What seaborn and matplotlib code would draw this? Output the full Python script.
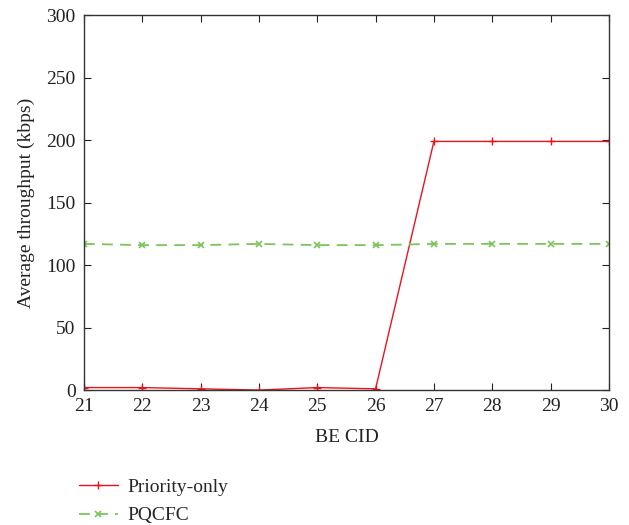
import matplotlib
matplotlib.use("Agg")
import matplotlib.pyplot as plt
import seaborn as sns
import pandas as pd

cid = [21, 22, 23, 24, 25, 26, 27, 28, 29, 30]
priority_only = [2, 2, 1, 0, 2, 1, 199, 199, 199, 199]
pqcfc = [117, 116, 116, 117, 116, 116, 117, 117, 117, 117]
yticks = [0, 50, 100, 150, 200, 250, 300]

sns.set_theme(style="white")
plt.rcParams['font.family'] = ['Liberation Serif', 'DejaVu Serif']

df = pd.DataFrame({"cid": cid * 2,
                   "val": priority_only + pqcfc,
                   "series": ["Priority-only"] * len(cid) + ["PQCFC"] * len(cid)})

fig = plt.figure(figsize=(6.29, 5.25), dpi=100)
ax = fig.add_axes([0.1335, 0.257, 0.8345, 0.714])

red = "#e8141c"
green = "#7ac55a"
sns.lineplot(data=df[df.series == "Priority-only"], x="cid", y="val", ax=ax,
             color=red, lw=1.0, marker="+", markersize=6, mew=1.0,
             markeredgecolor=red, label="Priority-only")
sns.lineplot(data=df[df.series == "PQCFC"], x="cid", y="val", ax=ax,
             color=green, lw=1.3, marker="x", markersize=4.5, mew=1.2,
             markeredgecolor=green, linestyle=(0, (6, 4)), label="PQCFC")

ax.set_xlim(21, 30)
ax.set_ylim(0, 300)
ax.set_xticks(cid)
ax.set_yticks(yticks)
ax.tick_params(direction="in", length=5, width=0.8, labelsize=14, colors="#222222",
               top=True, right=True, bottom=True, left=True, pad=6)
for s in ax.spines.values():
    s.set_color("#333333")
    s.set_linewidth(1.0)
ax.set_xlabel("BE CID", fontsize=14, color="#222222", labelpad=10)
ax.set_ylabel("Average throughput (kbps)", fontsize=14, color="#222222", labelpad=8)

ax.legend(loc="upper left", bbox_to_anchor=(-0.025, -0.215), frameon=False,
          fontsize=14, handlelength=2.0, borderaxespad=0, labelspacing=0.55,
          handletextpad=0.5)

fig.savefig("out.png", dpi=100)
